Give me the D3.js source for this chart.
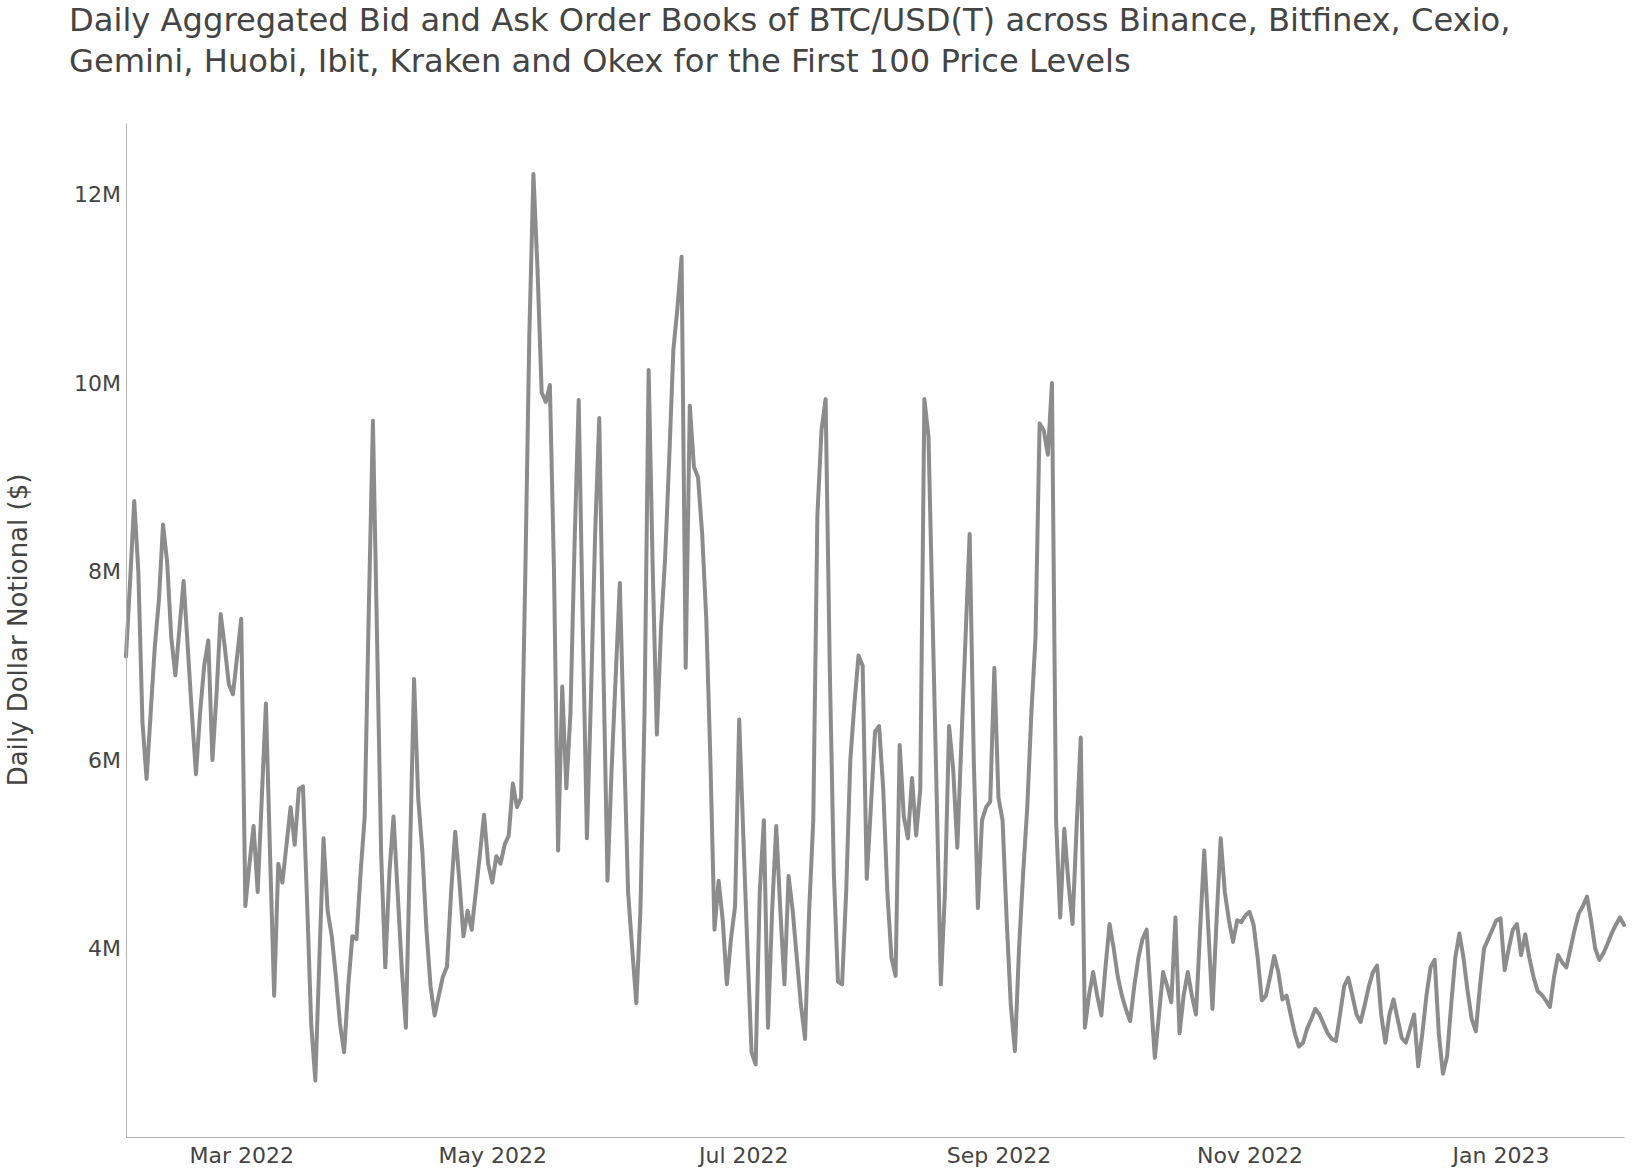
<!DOCTYPE html>
<html><head><meta charset="utf-8">
<script src="https://cdn.jsdelivr.net/npm/d3@7"></script>
<style>body{margin:0;background:#fff} svg text{font-family:"DejaVu Sans",Verdana,sans-serif;fill:#444}</style>
</head><body><svg id="c" width="1632" height="1174"></svg>
<script>
const titleLines = [
  "Daily Aggregated Bid and Ask Order Books of BTC/USD(T) across Binance, Bitfinex, Cexio,",
  "Gemini, Huobi, Ibit, Kraken and Okex for the First 100 Price Levels"
];
const yAxisTitle = "Daily Dollar Notional ($)";
const startDate = "2022-02-01";
// daily aggregated notional, in millions of USD, one value per day from startDate
const valuesM = [
  7.1, 7.9, 8.75, 8.0, 6.4, 5.8, 6.5, 7.2, 7.7, 8.5,
  8.1, 7.3, 6.9, 7.4, 7.9, 7.2, 6.5, 5.85, 6.5, 7.0,
  7.27, 6.0, 6.7, 7.55, 7.2, 6.8, 6.7, 7.1, 7.5, 4.45,
  4.9, 5.3, 4.6, 5.6, 6.6, 5.0, 3.5, 4.9, 4.7, 5.1,
  5.5, 5.1, 5.69, 5.72, 4.5, 3.2, 2.6, 3.9, 5.17, 4.4,
  4.13, 3.7, 3.2, 2.9, 3.6, 4.13, 4.1, 4.8, 5.4, 7.6,
  9.6, 7.3, 5.0, 3.8, 4.8, 5.4, 4.6, 3.8, 3.16, 5.0,
  6.86, 5.6, 5.04, 4.2, 3.6, 3.29, 3.5, 3.7, 3.81, 4.6,
  5.24, 4.72, 4.13, 4.4, 4.2, 4.6, 5.0, 5.42, 4.9, 4.7,
  4.98, 4.9, 5.1, 5.2, 5.75, 5.5, 5.6, 7.9, 10.5, 12.22,
  11.2, 9.9, 9.8, 9.98, 8.0, 5.04, 6.78, 5.7, 6.5, 8.3,
  9.82, 7.4, 5.17, 6.7, 8.4, 9.63, 7.0, 4.72, 5.9, 6.9,
  7.88, 6.2, 4.6, 4.0, 3.42, 4.4, 6.5, 10.14, 8.0, 6.27,
  7.4, 8.14, 9.2, 10.35, 10.8, 11.34, 6.98, 9.76, 9.11, 9.0,
  8.4, 7.5, 6.0, 4.2, 4.72, 4.3, 3.62, 4.1, 4.45, 6.43,
  5.2, 4.0, 2.9, 2.77, 4.6, 5.36, 3.16, 4.4, 5.3, 4.4,
  3.62, 4.77, 4.4, 3.9, 3.4, 3.04, 4.4, 5.36, 8.6, 9.5,
  9.83, 7.0, 4.8, 3.65, 3.62, 4.6, 6.0, 6.6, 7.11, 7.0,
  4.74, 5.5, 6.3, 6.36, 5.69, 4.6, 3.9, 3.71, 6.16, 5.4,
  5.17, 5.81, 5.2, 5.69, 9.83, 9.43, 7.5, 5.6, 3.62, 4.6,
  6.36, 5.9, 5.07, 6.2, 7.3, 8.4, 6.0, 4.43, 5.36, 5.5,
  5.56, 6.98, 5.6, 5.36, 4.3, 3.4, 2.91, 4.0, 4.8, 5.5,
  6.5, 7.3, 9.57, 9.5, 9.24, 10.0, 5.36, 4.33, 5.27, 4.7,
  4.26, 5.3, 6.24, 3.16, 3.5, 3.75, 3.5, 3.29, 3.8, 4.26,
  4.0, 3.7, 3.5, 3.35, 3.23, 3.6, 3.9, 4.1, 4.2, 3.5,
  2.84, 3.3, 3.75, 3.6, 3.43, 4.33, 3.1, 3.5, 3.75, 3.5,
  3.3, 4.2, 5.04, 4.2, 3.36, 4.3, 5.17, 4.6, 4.3, 4.07,
  4.3, 4.28, 4.35, 4.39, 4.25, 3.9, 3.45, 3.5, 3.7, 3.92,
  3.75, 3.46, 3.5, 3.3, 3.1, 2.96, 3.0, 3.15, 3.25, 3.36,
  3.3, 3.2, 3.1, 3.04, 3.02, 3.3, 3.6, 3.69, 3.5, 3.3,
  3.22, 3.4, 3.6, 3.75, 3.82, 3.3, 3.0, 3.3, 3.46, 3.25,
  3.05, 3.0, 3.15, 3.3, 2.75, 3.1, 3.5, 3.8, 3.88, 3.1,
  2.67, 2.85, 3.4, 3.9, 4.16, 3.9, 3.55, 3.25, 3.12, 3.6,
  4.0, 4.1, 4.2, 4.3, 4.32, 3.77, 4.0, 4.2, 4.26, 3.93,
  4.15, 3.9, 3.7, 3.55, 3.51, 3.45, 3.38, 3.7, 3.93, 3.85,
  3.8, 4.0, 4.2, 4.37, 4.45, 4.55, 4.3, 4.0, 3.88, 3.95,
  4.05, 4.16, 4.25, 4.33, 4.25
];
const yTickValues = [4e6, 6e6, 8e6, 10e6, 12e6];
const xTickDates = ["2022-03-01", "2022-05-01", "2022-07-01", "2022-09-01", "2022-11-01", "2023-01-01"];

const m = {left: 126, right: 1624, top: 123, bottom: 1137};
const svg = d3.select("#c");
svg.append("rect").attr("width", 1632).attr("height", 1174).attr("fill", "#fff");

const parse = d3.utcParse("%Y-%m-%d");
const t0 = parse(startDate);
const data = valuesM.map((v, i) => ({date: d3.utcDay.offset(t0, i), value: v * 1e6}));

const x = d3.scaleUtc().domain(d3.extent(data, d => d.date)).range([m.left, m.right]);
const y = d3.scaleLinear().domain([2.0e6, 12.76e6]).range([m.bottom, m.top]);

// line
svg.append("path")
  .datum(data)
  .attr("fill", "none")
  .attr("stroke", "#8c8c8c")
  .attr("stroke-width", 4)
  .attr("stroke-linejoin", "round")
  .attr("stroke-linecap", "round")
  .attr("d", d3.line().x(d => x(d.date)).y(d => y(d.value)));

// axes
const yAxis = svg.append("g")
  .attr("transform", `translate(${m.left},0)`)
  .call(d3.axisLeft(y).tickValues(yTickValues).tickSize(0).tickSizeOuter(0).tickPadding(5)
    .tickFormat(d => d3.format("~s")(d)));
const xAxis = svg.append("g")
  .attr("transform", `translate(0,${m.bottom})`)
  .call(d3.axisBottom(x).tickValues(xTickDates.map(parse)).tickSize(0).tickSizeOuter(0).tickPadding(10)
    .tickFormat(d3.utcFormat("%b %Y")));
[yAxis, xAxis].forEach(g => {
  g.attr("font-family", null).attr("font-size", null);
  g.select(".domain").attr("stroke", "#b4b4b4").attr("stroke-width", 1);
  g.selectAll("text").style("font-size", "22px").attr("fill", "#444");
});

// y axis title
svg.append("text")
  .attr("transform", `translate(18,${(m.top + m.bottom) / 2}) rotate(-90)`)
  .attr("text-anchor", "middle")
  .attr("dy", "0.35em")
  .style("font-size", "26px")
  .text(yAxisTitle);

// title
const tt = svg.append("g");
const lines = tt.selectAll("text").data(titleLines).join("text")
  .attr("x", 69)
  .attr("y", (d, i) => 31 + i * 41)
  .style("font-size", "30px")
  .text(d => d);
const len0 = lines.node().getComputedTextLength();
const fs = 30 * 1442 / len0;
lines.style("font-size", fs + "px");
</script>
</body></html>
